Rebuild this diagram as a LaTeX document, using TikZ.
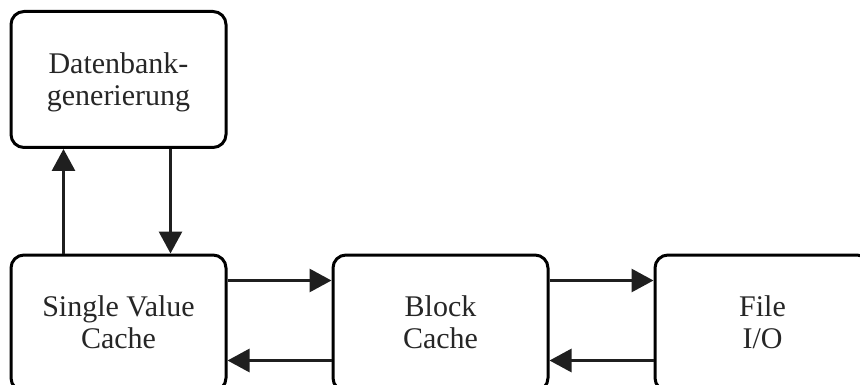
\documentclass[tikz,border=0pt]{standalone}
\usepackage{fontspec}
\setmainfont{Liberation Serif}
\usetikzlibrary{arrows.meta}
% two-line label, set a little below the box centre
\newcommand\twoline[2]{\raisebox{-3pt}[\height][\depth]{%
  \begin{tabular}{@{}c@{}}#1\\[-1pt]#2\end{tabular}}}
\begin{document}
\begin{tikzpicture}[x=1pt,y=-1pt,
  box/.style={draw, line width=3pt, rounded corners=13pt, inner sep=0pt,
    minimum width=215pt, minimum height=136pt, align=center,
    font=\fontsize{30}{33}\selectfont, text=black!85},
  arr/.style={line width=3pt, -{Triangle[length=22pt,width=23pt]}, draw=black!88}]
  \useasboundingbox (0,0) rectangle (860,385);
  % boxes
  \node[box] (db)  at (118.5,79.5) {\twoline{Datenbank-}{generierung}};
  \node[box] (svc) at (118.5,323)  {\twoline{Single Value}{Cache}};
  \node[box] (bc)  at (440.5,323)  {\twoline{Block}{Cache}};
  \node[box] (fio) at (762.5,323)  {\twoline{File}{I/O}};
  % vertical connectors
  \draw[arr] ([xshift=54pt]svc.north west) -- ([xshift=54pt]db.south west);
  \draw[arr] ([xshift=161pt]db.south west) -- ([xshift=161pt]svc.north west);
  % horizontal connectors
  \draw[arr] ([yshift=-27pt]svc.north east) -- ([yshift=-27pt]bc.north west);
  \draw[arr] ([yshift=-107pt]bc.north west) -- ([yshift=-107pt]svc.north east);
  \draw[arr] ([yshift=-27pt]bc.north east) -- ([yshift=-27pt]fio.north west);
  \draw[arr] ([yshift=-107pt]fio.north west) -- ([yshift=-107pt]bc.north east);
\end{tikzpicture}
\end{document}
